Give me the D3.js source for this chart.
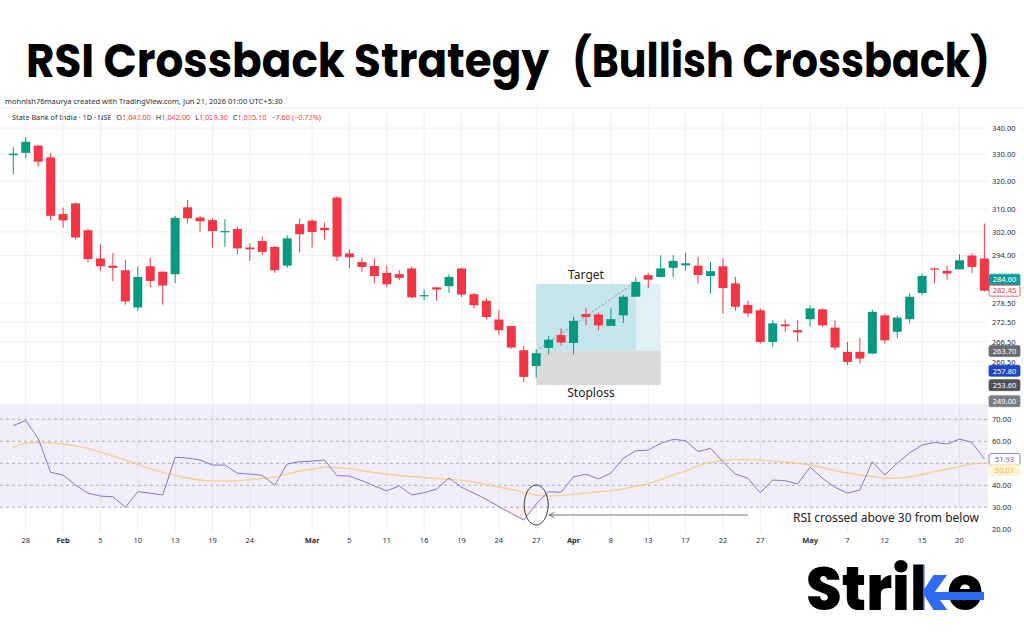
<!DOCTYPE html>
<html>
<head>
<meta charset="utf-8">
<script src="https://cdn.jsdelivr.net/npm/d3@7"></script>
<style>
  html, body { margin: 0; padding: 0; background: #fff; }
  svg { display: block; font-family: "Noto Sans", "DejaVu Sans", sans-serif; }
</style>
</head>
<body>
<svg id="chart" width="1024" height="640"></svg>
<script>
// Daily candles, State Bank of India
var opens = [329.6, 330.5, 333.2, 328.8, 308.2, 312.0, 302.6, 293.0, 290.6, 289.1,
  277.1, 290.4, 288.6, 287.8, 310.6, 307.0, 306.1, 302.0, 303.0, 296.7,
  298.9, 296.9, 290.6, 304.7, 305.9, 303.4, 314.1, 294.7, 291.8, 290.5,
  288.2, 287.8, 289.7, 280.9, 283.5, 283.9, 289.7, 281.3, 279.2, 273.3,
  271.3, 263.9, 259.2, 264.6, 268.5, 266.1, 275.0, 274.9, 271.3, 274.6,
  280.5, 287.5, 286.9, 289.9, 290.7, 290.6, 287.2, 290.4, 284.8, 277.9,
  276.2, 266.4, 271.8, 270.0, 273.4, 276.5, 270.8, 263.4, 263.4, 262.9,
  274.6, 269.5, 273.4, 281.7, 289.7, 288.9, 289.4, 294.0, 293.0];
var highs = [332.7, 336.5, 333.6, 330.5, 310.5, 312.4, 303.1, 297.8, 294.8, 292.4,
  290.4, 293.2, 288.8, 307.6, 313.2, 307.6, 306.7, 306.4, 303.8, 298.1,
  300.4, 297.2, 300.9, 306.7, 306.4, 305.2, 314.4, 296.1, 293.4, 293.0,
  290.6, 289.1, 290.4, 282.8, 283.7, 287.8, 289.8, 281.7, 280.0, 276.2,
  271.4, 265.2, 264.1, 268.2, 270.5, 274.1, 276.8, 275.4, 276.8, 281.0,
  286.9, 288.2, 294.1, 294.1, 294.9, 293.6, 291.9, 293.0, 286.9, 279.2,
  276.8, 273.1, 273.3, 273.1, 277.8, 276.8, 273.1, 266.4, 267.6, 276.4,
  275.2, 274.6, 281.5, 288.0, 289.8, 290.6, 294.4, 294.8, 304.9];
var lows = [322.6, 328.5, 325.5, 306.0, 303.5, 299.4, 291.7, 288.8, 285.5, 278.0,
  275.9, 283.5, 278.0, 284.9, 304.9, 302.1, 296.7, 296.9, 294.4, 292.2,
  294.1, 288.2, 289.9, 294.9, 296.7, 299.4, 292.2, 289.7, 288.6, 284.8,
  283.5, 285.8, 280.0, 279.4, 279.2, 281.7, 280.4, 276.8, 273.3, 268.5,
  264.4, 254.5, 255.8, 262.7, 265.3, 262.7, 271.6, 269.9, 271.3, 272.2,
  280.5, 283.2, 286.8, 286.7, 288.9, 284.8, 281.5, 275.2, 276.0, 274.1,
  265.9, 264.9, 269.5, 266.4, 271.2, 271.0, 263.9, 259.4, 259.9, 262.7,
  265.9, 267.6, 272.2, 281.0, 284.9, 286.0, 289.4, 288.2, 282.1];
var closes = [330.2, 334.7, 327.2, 307.6, 306.0, 300.1, 292.8, 290.4, 289.9, 279.0,
  286.9, 285.6, 284.1, 306.9, 306.7, 305.7, 302.3, 302.3, 296.4, 296.1,
  295.2, 289.1, 299.8, 301.2, 302.0, 302.6, 293.6, 293.4, 290.2, 287.2,
  284.5, 286.6, 280.3, 281.0, 282.8, 286.9, 281.2, 277.8, 274.1, 270.0,
  264.7, 256.0, 263.0, 267.1, 266.2, 272.9, 274.1, 271.5, 273.4, 280.5,
  285.3, 286.0, 289.7, 292.2, 291.4, 287.5, 288.8, 283.3, 277.3, 275.2,
  266.4, 272.1, 271.2, 269.3, 276.8, 271.5, 264.7, 260.4, 261.4, 275.7,
  266.9, 273.9, 280.5, 287.2, 289.4, 288.0, 292.4, 290.2, 282.45];

// RSI(14) and its moving average
var rsiValues = [67.1, 69.4, 61.3, 45.9, 44.7, 40.1, 36.4, 35.1, 34.8, 30.0,
  37.1, 36.4, 35.6, 52.7, 52.4, 51.5, 49.2, 49.2, 45.5, 45.1,
  44.5, 40.1, 49.7, 50.7, 51.0, 51.5, 44.4, 44.2, 42.1, 39.7,
  37.5, 39.7, 35.6, 36.6, 38.3, 43.3, 39.1, 36.4, 33.6, 30.3,
  27.3, 24.2, 31.5, 37.1, 36.8, 43.9, 45.0, 42.9, 45.5, 52.3,
  55.7, 56.0, 59.1, 60.9, 60.3, 55.3, 56.8, 50.7, 45.1, 43.2,
  36.6, 42.4, 42.1, 40.6, 48.2, 43.2, 39.1, 36.4, 37.9, 50.7,
  44.7, 50.0, 54.8, 58.3, 59.5, 58.8, 61.0, 59.5, 51.93];
var rsiMaValues = [57.3, 59.1, 59.4, 59.2, 58.8, 57.9, 56.7, 55.1, 53.3, 51.5,
  49.5, 47.6, 45.9, 44.5, 43.3, 42.4, 42.0, 42.0, 42.1, 42.6,
  43.2, 43.8, 45.1, 46.5, 47.4, 48.2, 48.1, 47.6, 46.6, 45.8,
  45.1, 44.4, 44.0, 43.5, 43.1, 42.7, 42.3, 41.5, 40.4, 39.2,
  38.1, 36.7, 35.6, 35.1, 35.4, 36.0, 36.5, 37.0, 37.6, 38.3,
  39.7, 40.8, 42.6, 44.7, 46.5, 48.8, 50.4, 51.3, 51.8, 51.7,
  51.5, 51.0, 50.6, 50.0, 49.2, 48.1, 46.7, 45.6, 44.7, 44.0,
  43.3, 43.3, 43.8, 44.9, 46.3, 47.4, 48.5, 49.7, 50.07];

// time axis (candle index of each label)
var timeTickIndex = [1, 4, 7, 10, 13, 16, 19, 24, 27, 30, 33, 36, 39, 42, 45, 48, 51, 54, 57, 60, 64, 67, 70, 73, 76];
var timeTickLabels = ["28", "Feb", "5", "10", "13", "19", "24", "Mar", "5", "11", "16", "19", "24", "27", "Apr", "8", "13", "17", "22", "27", "May", "7", "12", "15", "20"];
var monthLabels = ["Feb", "Mar", "Apr", "May"];

var priceTicks = [340, 330, 320, 310, 302, 294, 278.5, 272.5, 266.5, 260.5];
var priceTagValues = [284.60, 282.45, 263.70, 257.80, 253.60, 249.00];
var rsiTicks = [70, 60, 40, 30, 20];
var rsiLevels = [70, 60, 50, 40, 30];
var rsiTagValues = [51.93, 50.07];

// long position tool
var entryIndex = 42, lastBarIndex = 50, endIndex = 52;
var entryPrice = 263.70, targetPrice = 284.60, stopPrice = 253.60;

var svg = d3.select("#chart");
var defs = svg.append("defs");

var plotRight = 988;
var pricePane = { top: 108, bottom: 404 };
var rsiPane = { top: 406, bottom: 532 };

var x = d3.scaleLinear().domain([0, closes.length - 1]).range([13.3, 984.4]);
var y = d3.scaleLog().domain([249, 340]).range([401.2, 128]);
var yR = d3.scaleLinear().domain([20, 70]).range([529.3, 419.3]);

var up = "#089981", down = "#f23645";
var bodyW = 9;

// Title (two parts, wide gap before the bracket)
var titleFont = "Poppins, Inter, 'Noto Sans', sans-serif";
svg.append("text")
  .attr("x", 26).attr("y", 77)
  .attr("textLength", 523).attr("lengthAdjust", "spacingAndGlyphs")
  .style("font-family", titleFont)
  .style("font-weight", 700).style("font-size", "47px").attr("fill", "#000")
  .text("RSI Crossback Strategy");
svg.append("text")
  .attr("x", 572).attr("y", 77)
  .attr("textLength", 418).attr("lengthAdjust", "spacingAndGlyphs")
  .style("font-family", titleFont)
  .style("font-weight", 700).style("font-size", "47px").attr("fill", "#000")
  .text("(Bullish Crossback)");

// TradingView header lines
svg.append("text").attr("x", 5).attr("y", 104)
  .style("font-size", "7.5px").attr("fill", "#2a2e39")
  .text("mohnish76maurya created with TradingView.com, Jun 21, 2026 01:00 UTC+5:30");

var hdr = svg.append("text").attr("x", 12).attr("y", 120).style("font-size", "7.3px");
hdr.append("tspan").attr("fill", "#2a2e39").text("State Bank of India · 1D · NSE  ");
[["O", "1,042.00 "], ["H", "1,042.00 "], ["L", "1,029.30 "], ["C", "1,035.10 "]].forEach(function (p) {
  hdr.append("tspan").attr("fill", "#2a2e39").attr("dx", 3).text(p[0]);
  hdr.append("tspan").attr("fill", down).text(p[1]);
});
hdr.append("tspan").attr("fill", down).attr("dx", 3).text("−7.60 (−0.73%)");

svg.append("line").attr("x1", 0).attr("x2", 1024).attr("y1", pricePane.top).attr("y2", pricePane.top)
  .attr("stroke", "#eceef2");

// grid
var grid = svg.append("g");
grid.selectAll(".hgrid").data(priceTicks).enter().append("line")
  .attr("x1", 0).attr("x2", plotRight)
  .attr("y1", (d) => y(d)).attr("y2", (d) => y(d))
  .attr("stroke", "#eef0f5");
grid.selectAll(".vgrid").data(timeTickIndex).enter().append("line")
  .attr("x1", (d) => x(d)).attr("x2", (d) => x(d))
  .attr("y1", pricePane.top).attr("y2", rsiPane.bottom)
  .attr("stroke", "#eef0f5");

// position tool boxes
var pos = svg.append("g");
pos.append("rect")
  .attr("x", x(entryIndex)).attr("width", x(endIndex) - x(entryIndex))
  .attr("y", y(targetPrice)).attr("height", y(entryPrice) - y(targetPrice))
  .attr("fill", "#dff1f4");
pos.append("rect")
  .attr("x", x(entryIndex)).attr("width", x(lastBarIndex) - x(entryIndex))
  .attr("y", y(targetPrice)).attr("height", y(entryPrice) - y(targetPrice))
  .attr("fill", "#c3e5eb");
pos.append("rect")
  .attr("x", x(entryIndex)).attr("width", x(endIndex) - x(entryIndex))
  .attr("y", y(entryPrice)).attr("height", y(stopPrice) - y(entryPrice))
  .attr("fill", "#dadada");
pos.append("line")
  .attr("x1", x(entryIndex)).attr("y1", y(entryPrice))
  .attr("x2", x(lastBarIndex)).attr("y2", y(closes[lastBarIndex]))
  .attr("stroke", "#8a8f99").attr("stroke-dasharray", "2,2");
pos.append("text").attr("x", x(46)).attr("y", 279).attr("text-anchor", "middle")
  .style("font-size", "12px").attr("fill", "#222").text("Target");
pos.append("text").attr("x", x(46.4)).attr("y", 397).attr("text-anchor", "middle")
  .style("font-size", "12px").attr("fill", "#222").text("Stoploss");

// candles
var candles = svg.append("g").selectAll("g").data(closes).enter().append("g");
candles.append("line")
  .attr("x1", (d, i) => x(i)).attr("x2", (d, i) => x(i))
  .attr("y1", (d, i) => y(highs[i])).attr("y2", (d, i) => y(lows[i]))
  .attr("stroke", (d, i) => (d >= opens[i] ? up : down));
candles.append("rect")
  .attr("x", (d, i) => x(i) - bodyW / 2).attr("width", bodyW)
  .attr("y", (d, i) => y(Math.max(d, opens[i])))
  .attr("height", (d, i) => Math.max(1.2, Math.abs(y(d) - y(opens[i]))))
  .attr("fill", (d, i) => (d >= opens[i] ? up : down));

// price axis
svg.append("g").selectAll("text").data(priceTicks).enter().append("text")
  .attr("x", 992).attr("y", (d) => y(d) + 3)
  .style("font-size", "7.5px").attr("fill", "#2a2e39")
  .text((d) => d.toFixed(2));

function spreadTags(vals, scale, h, dir) {
  var ys = vals.map((v) => scale(v));
  var order = d3.range(vals.length).sort((a, b) => ys[a] - ys[b]);
  if (dir < 0) {
    for (var k = order.length - 2; k >= 0; k--) {
      var a = order[k], b = order[k + 1];
      if (ys[b] - ys[a] < h) ys[a] = ys[b] - h;
    }
  } else {
    for (var k = 1; k < order.length; k++) {
      var a = order[k - 1], b = order[k];
      if (ys[b] - ys[a] < h) ys[b] = ys[a] + h;
    }
  }
  return ys;
}

var priceTagStyle = [
  { bg: "#0f9d9a", fg: "#fff", border: "#0f9d9a" },
  { bg: "#fff", fg: down, border: down },
  { bg: "#6a6d78", fg: "#fff", border: "#6a6d78" },
  { bg: "#1e48c8", fg: "#fff", border: "#1e48c8" },
  { bg: "#50535e", fg: "#fff", border: "#50535e" },
  { bg: "#7b7e88", fg: "#fff", border: "#7b7e88" }
];
var ptY = spreadTags(priceTagValues, y, 11, -1);
var ptags = svg.append("g").selectAll("g").data(priceTagValues).enter().append("g")
  .attr("transform", (d, i) => "translate(989," + ptY[i] + ")");
ptags.append("rect").attr("x", 0).attr("y", -5.5).attr("width", 31).attr("height", 11).attr("rx", 1.5)
  .attr("fill", (d, i) => priceTagStyle[i].bg).attr("stroke", (d, i) => priceTagStyle[i].border).attr("stroke-width", 0.8);
ptags.append("text").attr("x", 15.5).attr("y", 2.8).attr("text-anchor", "middle")
  .style("font-size", "7.5px").attr("fill", (d, i) => priceTagStyle[i].fg)
  .text((d) => d.toFixed(2));

// pane separator
svg.append("line").attr("x1", 0).attr("x2", plotRight).attr("y1", rsiPane.top - 1).attr("y2", rsiPane.top - 1)
  .attr("stroke", "#e0e3eb");

// RSI pane
var rsiG = svg.append("g");
rsiG.append("rect").attr("x", 0).attr("width", plotRight)
  .attr("y", rsiPane.top).attr("height", yR(30) - rsiPane.top)
  .attr("fill", "#7e57c2").attr("fill-opacity", 0.1);
rsiG.selectAll(".lvl").data(rsiLevels).enter().append("line")
  .attr("x1", 0).attr("x2", plotRight)
  .attr("y1", (d) => yR(d)).attr("y2", (d) => yR(d))
  .attr("stroke", "#9598a1").attr("stroke-opacity", 0.7).attr("stroke-dasharray", "3,3");

rsiG.append("path")
  .datum(rsiValues)
  .attr("d", d3.area().x((d, i) => x(i)).y0(yR(30)).y1((d) => yR(Math.min(d, 30))))
  .attr("fill", "#f23645").attr("fill-opacity", 0.08);

rsiG.append("path")
  .datum(rsiMaValues)
  .attr("d", d3.line().x((d, i) => x(i)).y((d) => yR(d)).curve(d3.curveMonotoneX))
  .attr("fill", "none").attr("stroke", "#f5c86c").attr("stroke-opacity", 0.75).attr("stroke-width", 1.4);
rsiG.append("path")
  .datum(rsiValues)
  .attr("d", d3.line().x((d, i) => x(i)).y((d) => yR(d)))
  .attr("fill", "none").attr("stroke", "#8b74cf").attr("stroke-width", 1);

svg.append("g").selectAll("text").data(rsiTicks).enter().append("text")
  .attr("x", 992).attr("y", (d) => yR(d) + 3)
  .style("font-size", "7.5px").attr("fill", "#2a2e39")
  .text((d) => d.toFixed(2));

var rsiTagStyle = [
  { bg: "#fff", fg: "#7e57c2", border: "#7e57c2" },
  { bg: "#fdf3cf", fg: "#e9b949", border: "#fdf3cf" }
];
var rtY = spreadTags(rsiTagValues, yR, 11, 1);
var rtags = svg.append("g").selectAll("g").data(rsiTagValues).enter().append("g")
  .attr("transform", (d, i) => "translate(989," + rtY[i] + ")");
rtags.append("rect").attr("x", 0).attr("y", -5.5).attr("width", 31).attr("height", 11).attr("rx", 1.5)
  .attr("fill", (d, i) => rsiTagStyle[i].bg).attr("stroke", (d, i) => rsiTagStyle[i].border).attr("stroke-width", 0.8);
rtags.append("text").attr("x", 15.5).attr("y", 2.8).attr("text-anchor", "middle")
  .style("font-size", "7.5px").attr("fill", (d, i) => rsiTagStyle[i].fg)
  .text((d) => d.toFixed(2));

// crossback annotation
defs.append("marker")
  .attr("id", "arrowHead").attr("viewBox", "0 0 10 10").attr("refX", 9).attr("refY", 5)
  .attr("markerWidth", 7).attr("markerHeight", 7).attr("orient", "auto")
  .append("path").attr("d", "M1,1 L9,5 L1,9").attr("fill", "none").attr("stroke", "#555").attr("stroke-width", 1.3);
svg.append("ellipse")
  .attr("cx", x(entryIndex)).attr("cy", yR(rsiValues[entryIndex]) + 1)
  .attr("rx", 12).attr("ry", 20)
  .attr("fill", "none").attr("stroke", "#3d3d3d").attr("stroke-width", 1);
svg.append("line")
  .attr("x1", 748).attr("y1", 515).attr("x2", x(entryIndex) + 13).attr("y2", 515)
  .attr("stroke", "#666").attr("stroke-width", 0.9).attr("marker-end", "url(#arrowHead)");
svg.append("text").attr("x", 793).attr("y", 522)
  .style("font-size", "12px").attr("fill", "#222")
  .text("RSI crossed above 30 from below");

// time axis
svg.append("g").selectAll("text").data(timeTickIndex).enter().append("text")
  .attr("x", (d) => x(d)).attr("y", 543).attr("text-anchor", "middle")
  .style("font-size", "7.5px")
  .style("font-weight", (d, i) => (monthLabels.indexOf(timeTickLabels[i]) >= 0 ? 700 : 400))
  .attr("fill", "#2a2e39")
  .text((d, i) => timeTickLabels[i]);

// Strike logo
var logo = svg.append("text").attr("x", 806).attr("y", 610)
  .attr("textLength", 177).attr("lengthAdjust", "spacingAndGlyphs")
  .style("font-family", titleFont)
  .style("font-weight", 800).style("font-size", "62px").attr("fill", "#000");
logo.append("tspan").text("Stri");
logo.append("tspan").attr("fill", "url(#kGrad)").text("k");
logo.append("tspan").text("e");
var node = logo.node();
var kx0 = node.getStartPositionOfChar(4).x, kx1 = node.getEndPositionOfChar(4).x;
var ex1 = node.getEndPositionOfChar(5).x;
var kg = defs.append("linearGradient").attr("id", "kGrad")
  .attr("gradientUnits", "userSpaceOnUse").attr("x1", kx0).attr("x2", kx1).attr("y1", 0).attr("y2", 0);
kg.append("stop").attr("offset", 0.36).attr("stop-color", "#000");
kg.append("stop").attr("offset", 0.36).attr("stop-color", "#2f6bf0");
svg.append("rect").attr("x", kx0 + (kx1 - kx0) * 0.45).attr("y", 592)
  .attr("width", ex1 - kx0 - (kx1 - kx0) * 0.45 + 1).attr("height", 8).attr("fill", "#2f6bf0");
</script>
</body>
</html>
